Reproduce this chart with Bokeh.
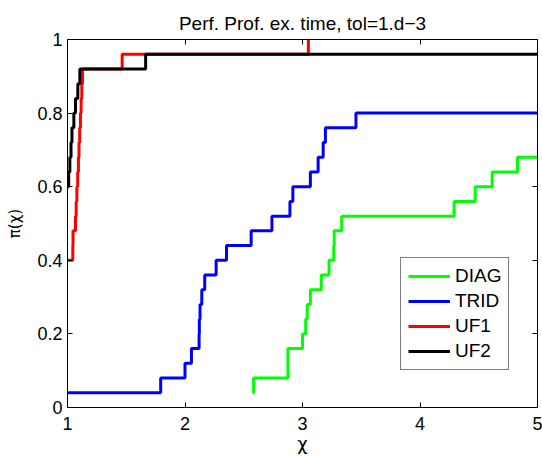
from bokeh.plotting import figure
from bokeh.models import (LinearAxis, FixedTicker, CustomJSTickFormatter, Range1d,
                          Legend, LegendItem)
from bokeh.embed import file_html
from bokeh.resources import INLINE

# ---- data (performance profile, 25 problems) ----
diag_x = [2.575, 2.584, 2.876, 3.0, 3.027, 3.04, 3.067, 3.16, 3.226, 3.266, 3.27, 3.334,
          4.29, 4.47, 4.614, 4.83, 5.0]
diag_y = [0.04, 0.08, 0.16, 0.20, 0.24, 0.28, 0.32, 0.36, 0.40, 0.44, 0.48, 0.52,
          0.56, 0.60, 0.64, 0.68, 0.68]

trid_x = [1.0, 1.793, 2.0, 2.055, 2.12, 2.122, 2.128, 2.143, 2.168, 2.265, 2.353, 2.563,
          2.74, 2.893, 2.918, 3.067, 3.133, 3.176, 3.195, 3.455, 5.0]
trid_y = [0.04, 0.08, 0.12, 0.16, 0.20, 0.24, 0.28, 0.32, 0.36, 0.40, 0.44, 0.48,
          0.52, 0.56, 0.60, 0.64, 0.68, 0.72, 0.76, 0.80, 0.80]

uf1_x = [1.0, 1.045, 1.047, 1.068, 1.074, 1.08, 1.087, 1.093, 1.098, 1.104, 1.11, 1.116,
         1.122, 1.128, 1.465, 3.05]
uf1_y = [0.40, 0.44, 0.48, 0.52, 0.56, 0.60, 0.64, 0.68, 0.72, 0.76, 0.80, 0.84,
         0.88, 0.92, 0.96, 1.00]

uf2_x = [1.0, 1.01, 1.02, 1.03, 1.038, 1.054, 1.068, 1.088, 1.105, 1.665, 5.0]
uf2_y = [0.60, 0.64, 0.68, 0.72, 0.76, 0.80, 0.84, 0.88, 0.92, 0.96, 0.96]

x_ticks = [1, 2, 3, 4, 5]
y_ticks = [0, 0.2, 0.4, 0.6, 0.8, 1]

series = [("DIAG", diag_x, diag_y, "#00ff00"),
          ("TRID", trid_x, trid_y, "#0000ff"),
          ("UF1", uf1_x, uf1_y, "#ff0000"),
          ("UF2", uf2_x, uf2_y, "#000000")]

FONT = "Liberation Sans"
GREEK = "DejaVu Sans"

p = figure(width=542, height=456, output_backend="svg", toolbar_location=None,
           x_range=Range1d(1, 5), y_range=Range1d(0, 1),
           min_border_left=67, min_border_right=5, min_border_top=39, min_border_bottom=48,
           title="Perf. Prof. ex. time, tol=1.d\u22123")
p.title.align = "center"
p.title.text_font = FONT
p.title.text_font_size = "19px"
p.title.text_font_style = "normal"
p.title.text_color = "black"
p.title.standoff = 12
p.grid.visible = False
p.outline_line_color = "black"
p.outline_line_width = 1
p.background_fill_color = "white"
p.border_fill_color = "white"

fmt = CustomJSTickFormatter(code="return String(tick);")

for ax, ticks in ((p.xaxis[0], x_ticks), (p.yaxis[0], y_ticks)):
    ax.ticker = FixedTicker(ticks=ticks)
    ax.formatter = fmt
    ax.major_tick_in = 5
    ax.major_tick_out = 0
    ax.minor_tick_line_color = None
    ax.major_label_text_font = FONT
    ax.major_label_text_font_size = "18px"
    ax.major_label_text_color = "black"
    ax.axis_label_text_font = GREEK
    ax.axis_label_text_font_style = "normal"
    ax.axis_label_text_color = "black"
    ax.axis_line_color = "black"
    ax.major_tick_line_color = "black"

p.xaxis[0].axis_label = "\u03c7"
p.xaxis[0].axis_label_text_font_size = "18px"
p.xaxis[0].major_label_standoff = 9
p.xaxis[0].axis_label_standoff = 0
p.yaxis[0].axis_label = "\u03c0(\u03c7)"
p.yaxis[0].axis_label_text_font_size = "15px"
p.yaxis[0].major_label_standoff = 5
p.yaxis[0].axis_label_standoff = 10

common = dict(major_tick_in=5, major_tick_out=0, minor_tick_line_color=None,
              major_label_text_font_size="1px", major_label_text_color=None,
              major_label_standoff=0, axis_line_color="black", major_tick_line_color="black")
top = LinearAxis(ticker=FixedTicker(ticks=x_ticks), **common)
right = LinearAxis(ticker=FixedTicker(ticks=y_ticks), **common)
p.add_layout(top, "above")
p.add_layout(right, "right")

items = []
for name, xs, ys, col in series:
    r = p.step(xs, ys, mode="after", line_color=col, line_width=3)
    items.append(LegendItem(label=name, renderers=[r]))

legend = Legend(items=items, location=(333, 37))
legend.border_line_color = "black"
legend.border_line_width = 1
legend.background_fill_color = "white"
legend.background_fill_alpha = 1
legend.label_text_font = FONT
legend.label_text_font_size = "19px"
legend.label_text_color = "black"
legend.glyph_width = 42
legend.glyph_height = 22
legend.label_height = 22
legend.label_standoff = 5
legend.spacing = 3
legend.padding = 7
legend.margin = 0
p.add_layout(legend, "center")

open("out.html", "w").write(file_html(p, INLINE))
